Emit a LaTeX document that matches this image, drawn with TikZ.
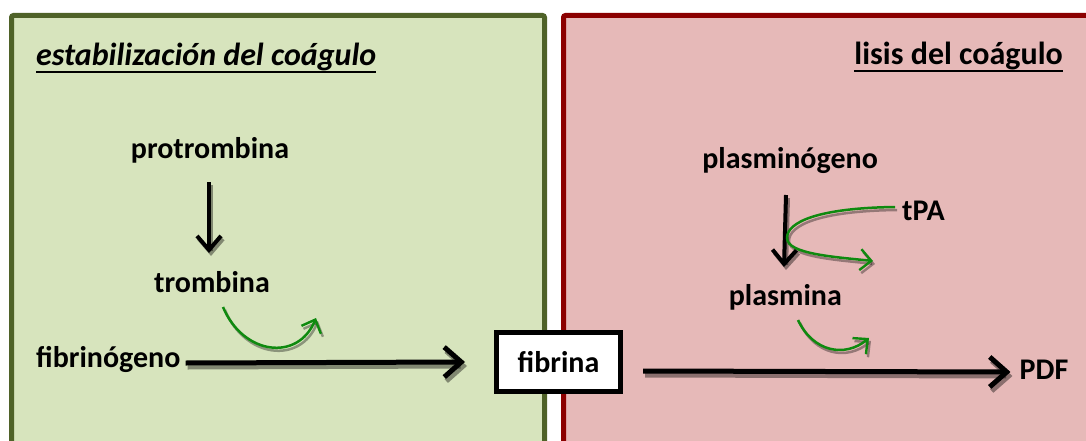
\documentclass[tikz,border=0pt]{standalone}
\usepackage{fontspec}
\setmainfont{Carlito}
\usetikzlibrary{arrows.meta}

\definecolor{panelgreen}{HTML}{D7E4BD}
\definecolor{edgegreen}{HTML}{4F6228}
\definecolor{panelred}{HTML}{E6B9B8}
\definecolor{edgered}{HTML}{8B0000}
\definecolor{catalyst}{HTML}{0F8A0F}

\tikzset{
  lbl/.style={font=\fontsize{30}{32}\selectfont\bfseries, inner sep=0pt, anchor=base},
  ttl/.style={font=\fontsize{32}{34}\selectfont\bfseries, inner sep=0pt, anchor=base},
  bigtip/.style={-{Straight Barb[length=17pt,width=30pt,line width=5pt]}},
  midtip/.style={-{Straight Barb[length=14pt,width=24pt,line width=4pt]}},
  smalltip/.style={-{Straight Barb[length=11pt,width=21pt,line width=2.4pt]}},
  mainflow/.style={line width=5pt, bigtip,
    preaction={draw=black, opacity=0.4, line width=5pt, bigtip,
      transform canvas={shift={(2pt,-4pt)}}}},
  stepflow/.style={line width=4pt, midtip,
    preaction={draw=black, opacity=0.4, line width=4pt, midtip,
      transform canvas={shift={(2pt,-3pt)}}}},
  enzyme/.style={draw=catalyst, line width=2.5pt, smalltip,
    preaction={draw=black, opacity=0.35, line width=2.5pt, smalltip,
      transform canvas={shift={(2pt,-3pt)}}}},
}

\begin{document}
\begin{tikzpicture}[x=1pt, y=-1pt]
\useasboundingbox (0,0) rectangle (1086,441);
\clip (0,0) rectangle (1086,441);

% the two panels
\draw[fill=panelgreen, draw=edgegreen, line width=5pt, rounded corners=2pt]
  (11.5,15.5) rectangle (544.5,470);
\draw[fill=panelred, draw=edgered, line width=5pt, rounded corners=2pt]
  (563.5,15.5) rectangle (1110,470);

% panel headings
\node[ttl, font=\fontsize{32}{34}\selectfont\bfseries\itshape, anchor=base west]
  (hstab) at (36,66) {estabilización del coágulo};
\draw[line width=2pt] ([yshift=-6pt]hstab.base west) -- ([yshift=-6pt]hstab.base east);
\node[ttl, anchor=base east] (hlys) at (1063,65) {lisis del coágulo};
\draw[line width=2pt] ([yshift=-6pt]hlys.base west) -- ([yshift=-6pt]hlys.base east);

% species
\node[lbl] (prot) at (210,158) {protrombina};
\node[lbl] (trom) at (212,292) {trombina};
\node[lbl, anchor=base west] (fgen) at (36,367) {fibrinógeno};
\node[draw=black, fill=white, line width=5pt, minimum width=124pt, minimum height=59pt,
      inner sep=0pt, font=\fontsize{30}{32}\selectfont\bfseries] (fib) at (558.5,362) {fibrina};
\node[lbl, anchor=base east] (plg) at (878,168) {plasminógeno};
\node[lbl, anchor=base west] (tpa) at (902,220) {tPA};
\node[lbl, anchor=base east] (plm) at (842,305) {plasmina};
\node[lbl] (pdf) at (1044,379) {PDF};

% free ends of the curved enzyme arrows
\coordinate (tromA) at (223,307);
\coordinate (tromB) at (316,318);
\coordinate (plmA) at (798,320);
\coordinate (plmB) at (869,338);
\coordinate (tpaB) at (873,261);

% conversions
\draw[stepflow] ([xshift=-1pt,yshift=-24pt]prot.base) -- ([xshift=-3pt,yshift=39pt]trom.base);
\draw[stepflow] ([xshift=-92pt,yshift=-27pt]plg.base east) -- ([xshift=-58pt,yshift=38pt]plm.base east);
\draw[mainflow] ([xshift=5pt,yshift=4pt]fgen.base east) -- ([xshift=-29pt]fib.west);
\draw[mainflow] ([xshift=20pt,yshift=-9pt]fib.east) -- ([xshift=-9pt,yshift=7pt]pdf.base west);

% enzymes acting on the conversions
\draw[enzyme] (tromA) .. controls (243,355) and (298,362) .. (tromB);
\draw[enzyme] ([xshift=-7pt,yshift=13pt]tpa.base west)
  .. controls (818,208) and (787,222) .. (787,238)
  .. controls (787,254) and (835,257) .. (tpaB);
\draw[enzyme] (plmA) .. controls (813,352) and (845,358) .. (plmB);
\end{tikzpicture}
\end{document}
